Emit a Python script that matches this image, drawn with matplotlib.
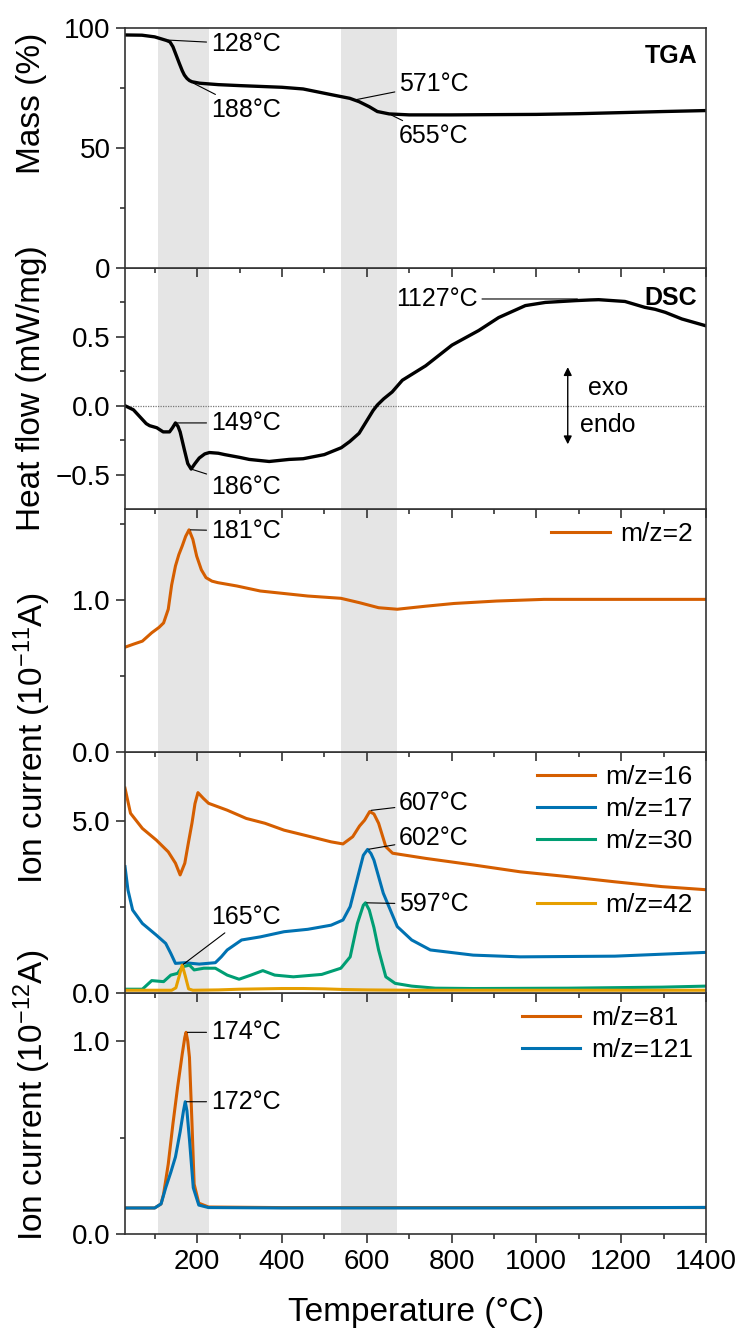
import matplotlib.pyplot as plt
from matplotlib.lines import Line2D
from matplotlib.ticker import MultipleLocator, FixedLocator, FuncFormatter

plt.rcParams['font.family'] = ['Liberation Sans', 'DejaVu Sans']
plt.rcParams['mathtext.fontset'] = 'custom'
plt.rcParams['mathtext.rm'] = 'Liberation Sans'
plt.rcParams['mathtext.it'] = 'Liberation Sans:italic'

# ---- data ----
# TGA (mass %)
t_tga = [30, 70, 100, 115, 128, 136, 143, 150, 158, 165, 170, 176, 182, 188, 206, 250, 300, 400,
         450, 520, 560, 582, 606, 625, 653, 700, 800, 900, 1000, 1100, 1213, 1300, 1400]
m_tga = [97.1, 97.0, 96.3, 95.5, 94.8, 94.2, 92.2, 89.0, 85.3, 82.2, 80.4, 79.0, 78.1, 77.6, 77.0,
         76.4, 76.0, 75.3, 74.6, 72.1, 70.7, 69.3, 67.2, 65.2, 64.2, 63.8, 63.8, 63.9, 64.0, 64.3,
         64.8, 65.2, 65.6]

# DSC (mW/mg)
t_dsc = [30, 50, 65, 80, 88, 105, 120, 135, 142, 149, 155, 160, 170, 178, 186, 195, 205, 218, 229,
         250, 265, 300, 323, 370, 417, 450, 500, 540, 560, 582, 600, 615, 625, 640, 660, 684, 739,
         801, 864, 911, 974, 1021, 1092, 1127, 1147, 1209, 1256, 1280, 1304, 1343, 1400]
v_dsc = [0.0, -0.03, -0.08, -0.13, -0.145, -0.16, -0.19, -0.19, -0.16, -0.125, -0.15, -0.19, -0.32,
         -0.42, -0.46, -0.42, -0.38, -0.35, -0.34, -0.345, -0.355, -0.375, -0.39, -0.405, -0.39,
         -0.385, -0.355, -0.305, -0.26, -0.2, -0.11, -0.035, 0.005, 0.05, 0.10, 0.185, 0.29, 0.44,
         0.546, 0.64, 0.727, 0.75, 0.763, 0.768, 0.77, 0.757, 0.714, 0.70, 0.678, 0.63, 0.58]

# MS m/z=2 (1e-11 A)
t_m2 = [30, 50, 71, 93, 110, 121, 132, 140, 149, 157, 165, 173, 181, 190, 199, 210, 221, 235, 249,
        294, 349, 400, 461, 539, 583, 628, 672, 739, 806, 906, 1018, 1185, 1400]
v_m2 = [0.69, 0.71, 0.73, 0.785, 0.82, 0.85, 0.94, 1.10, 1.225, 1.30, 1.357, 1.42, 1.463, 1.40,
        1.29, 1.20, 1.148, 1.125, 1.115, 1.093, 1.06, 1.045, 1.027, 1.012, 0.983, 0.95, 0.94,
        0.96, 0.978, 0.994, 1.005, 1.005, 1.005]

# MS m/z=16, 17, 30, 42
t_16 = [30, 43, 71, 104, 132, 149, 160, 171, 180, 188, 195, 202, 215, 227, 271, 316, 360, 405,
        461, 516, 544, 567, 583, 595, 607, 617, 628, 645, 661, 739, 851, 962, 1074, 1185, 1296, 1400]
v_16 = [5.95, 5.22, 4.78, 4.44, 4.10, 3.77, 3.43, 3.77, 4.4, 4.94, 5.5, 5.82, 5.65, 5.51, 5.31,
        5.07, 4.93, 4.73, 4.56, 4.39, 4.33, 4.54, 4.85, 5.02, 5.27, 5.2, 4.93, 4.25, 4.06, 3.91,
        3.72, 3.52, 3.38, 3.23, 3.09, 3.0]

t_17 = [30, 37, 48, 71, 104, 126, 138, 149, 171, 205, 243, 257, 271, 305, 349, 405, 461, 516, 544,
        561, 583, 592, 602, 610, 617, 639, 672, 706, 750, 851, 962, 1185, 1400]
v_17 = [3.67, 2.99, 2.41, 2.02, 1.68, 1.44, 1.15, 0.86, 0.88, 0.84, 0.88, 1.05, 1.25, 1.54, 1.63,
        1.78, 1.85, 1.97, 2.12, 2.51, 3.57, 4.0, 4.17, 4.05, 3.86, 2.90, 1.93, 1.54, 1.25, 1.10,
        1.05, 1.07, 1.18]

t_30 = [30, 71, 93, 121, 138, 154, 165, 182, 193, 216, 243, 271, 299, 327, 355, 383, 427, 494,
        539, 561, 578, 592, 597, 606, 617, 628, 645, 667, 706, 762, 851, 1074, 1296, 1400]
v_30 = [0.11, 0.11, 0.36, 0.33, 0.52, 0.57, 0.76, 0.81, 0.67, 0.72, 0.72, 0.52, 0.40, 0.52, 0.65,
        0.52, 0.47, 0.54, 0.72, 1.05, 2.02, 2.55, 2.62, 2.41, 1.9, 1.25, 0.47, 0.28, 0.20, 0.14,
        0.13, 0.14, 0.17, 0.20]

t_42 = [30, 100, 140, 150, 158, 165, 172, 180, 190, 250, 300, 350, 400, 450, 500, 550, 600, 700,
        900, 1100, 1400]
v_42 = [0.08, 0.08, 0.08, 0.15, 0.5, 0.81, 0.5, 0.12, 0.08, 0.09, 0.11, 0.12, 0.13, 0.13, 0.12,
        0.1, 0.09, 0.08, 0.08, 0.08, 0.08]

# MS m/z=81, 121 (1e-12 A)
t_81 = [30, 100, 115, 121, 132, 143, 154, 165, 171, 174, 178, 182, 188, 193, 204, 227, 400, 700,
        1000, 1400]
v_81 = [0.135, 0.135, 0.156, 0.207, 0.363, 0.571, 0.761, 0.934, 1.02, 1.046, 1.0, 0.916, 0.571,
        0.259, 0.16, 0.14, 0.137, 0.137, 0.137, 0.137]
t_121 = [30, 100, 115, 126, 138, 149, 160, 168, 172, 176, 182, 191, 204, 227, 400, 700, 1000, 1400]
v_121 = [0.135, 0.135, 0.156, 0.24, 0.32, 0.40, 0.53, 0.64, 0.686, 0.64, 0.49, 0.24, 0.15, 0.137,
         0.135, 0.135, 0.135, 0.138]

spans = [(107, 229), (540, 671)]

c_or, c_bl, c_gr, c_ye = '#D55E00', '#0072B2', '#009E73', '#E69F00'

# ---- layout ----
W, H = 742, 1331
fig = plt.figure(figsize=(W / 100, H / 100), dpi=100)
left, right = 125, 706
bounds = [28, 268, 509, 752, 993, 1234]
axes = []
for i in range(5):
    top, bot = bounds[i], bounds[i + 1]
    ax = fig.add_axes([left / W, 1 - bot / H, (right - left) / W, (bot - top) / H])
    ax.set_zorder(10 - i)
    axes.append(ax)

ylims = [(0, 100), (-0.75, 1.0), (0, 1.6), (0, 7), (0, 1.25)]
ymaj = [[0, 50, 100], [-0.5, 0, 0.5], [0, 1], [0, 5], [0, 1]]
ymin = [[25, 75], [-0.25, 0.25, 0.75], [0.5, 1.5], [2.5], [0.5]]

one_dec = FuncFormatter(lambda v, p: f'{v:.1f}'.replace('-', '\u2212'))

for i, ax in enumerate(axes):
    ax.set_xlim(30, 1400)
    ax.set_ylim(*ylims[i])
    ax.xaxis.set_major_locator(MultipleLocator(200))
    ax.xaxis.set_minor_locator(MultipleLocator(100))
    ax.yaxis.set_major_locator(FixedLocator(ymaj[i]))
    ax.yaxis.set_minor_locator(FixedLocator(ymin[i]))
    if i > 0:
        ax.yaxis.set_major_formatter(one_dec)
    ax.tick_params(axis='both', which='major', direction='out', length=6.5, width=1.2,
                   labelsize=20, pad=4, color='#333333')
    ax.tick_params(axis='both', which='minor', direction='out', length=3.6, width=1.2,
                   color='#333333')
    ax.tick_params(axis='x', which='both', top=False, labelbottom=(i == 4))
    ax.tick_params(axis='y', which='both', right=False)
    for s in ax.spines.values():
        s.set_color('#333333')
        s.set_linewidth(1.2)
    for a, b in spans:
        ax.axvspan(a, b, color='#e5e5e5', lw=0, zorder=0)

ann_kw = dict(fontsize=18, va='center', ha='left',
              arrowprops=dict(arrowstyle='-', color='black', lw=0.8, shrinkA=1, shrinkB=1))

# TGA
ax = axes[0]
ax.plot(t_tga, m_tga, color='black', lw=2.4)
ax.text(0.985, 0.885, 'TGA', transform=ax.transAxes, ha='right', va='center',
        fontsize=18, fontweight='bold')
ax.annotate('128°C', xy=(128, 95), xytext=(232, 93.3), **ann_kw)
ax.annotate('188°C', xy=(188, 77.3), xytext=(232, 65.9), **ann_kw)
ax.annotate('571°C', xy=(571, 70.0), xytext=(676, 76.6), **ann_kw)
ax.annotate('655°C', xy=(655, 64.0), xytext=(676, 55.0), **ann_kw)

# DSC
ax = axes[1]
ax.axhline(0, color='#777777', lw=0.9, ls=(0, (1, 1)), zorder=1)
ax.plot(t_dsc, v_dsc, color='black', lw=2.4)
ax.text(0.985, 0.875, 'DSC', transform=ax.transAxes, ha='right', va='center',
        fontsize=18, fontweight='bold')
ax.annotate('149°C', xy=(149, -0.125), xytext=(232, -0.125), **ann_kw)
ax.annotate('186°C', xy=(186, -0.46), xytext=(232, -0.587), **ann_kw)
kw = dict(ann_kw)
kw['ha'] = 'right'
ax.annotate('1127°C', xy=(1100, 0.775), xytext=(862, 0.775), **kw)
ax.annotate('', xy=(1074, 0.28), xytext=(1074, -0.28),
            arrowprops=dict(arrowstyle='<|-|>', color='black', lw=1.0, mutation_scale=12,
                            shrinkA=0, shrinkB=0))
ax.text(1122, 0.13, 'exo', fontsize=18, ha='left', va='center')
ax.text(1103, -0.14, 'endo', fontsize=18, ha='left', va='center')

leg_kw = dict(loc='upper right', frameon=False, fontsize=19, handlelength=2.2,
              handletextpad=0.4, labelspacing=0.3, borderaxespad=0.3, borderpad=0.2)

# m/z 2
ax = axes[2]
ax.plot(t_m2, v_m2, color=c_or, lw=2.2, label='m/z=2')
ax.annotate('181°C', xy=(181, 1.463), xytext=(232, 1.455), **ann_kw)
ax.legend(**leg_kw)

# m/z 16, 17, 30, 42
ax = axes[3]
l16, = ax.plot(t_16, v_16, color=c_or, lw=2.2, label='m/z=16')
l17, = ax.plot(t_17, v_17, color=c_bl, lw=2.2, label='m/z=17')
l30, = ax.plot(t_30, v_30, color=c_gr, lw=2.2, label='m/z=30')
l42, = ax.plot(t_42, v_42, color=c_ye, lw=2.2, label='m/z=42')
blank = Line2D([], [], color='none', label=' ')
ax.legend(handles=[l16, l17, l30, blank, l42], **leg_kw)
ax.annotate('607°C', xy=(607, 5.3), xytext=(676, 5.52), **ann_kw)
ax.annotate('602°C', xy=(602, 4.17), xytext=(676, 4.5), **ann_kw)
ax.annotate('597°C', xy=(597, 2.62), xytext=(676, 2.58), **ann_kw)
ax.annotate('165°C', xy=(165, 0.81), xytext=(232, 2.2), **ann_kw)

# m/z 81, 121
ax = axes[4]
ax.plot(t_81, v_81, color=c_or, lw=2.2, label='m/z=81')
ax.plot(t_121, v_121, color=c_bl, lw=2.2, label='m/z=121')
ax.annotate('174°C', xy=(174, 1.046), xytext=(232, 1.046), **ann_kw)
ax.annotate('172°C', xy=(172, 0.686), xytext=(232, 0.686), **ann_kw)
ax.legend(**leg_kw)

# axis labels
fig.text(0.043, 1 - 103 / H, 'Mass (%)', rotation=90, ha='center', va='center', fontsize=24)
fig.text(0.043, 1 - 388 / H, 'Heat flow (mW/mg)', rotation=90, ha='center', va='center',
         fontsize=24)
fig.text(0.043, 1 - 738 / H, 'Ion current (10$^{-11}$A)', rotation=90, ha='center',
         va='center', fontsize=24)
fig.text(0.043, 1 - 1095 / H, 'Ion current (10$^{-12}$A)', rotation=90, ha='center',
         va='center', fontsize=24)
fig.text(416 / W, 1 - 1313 / H, 'Temperature (°C)', ha='center', va='center', fontsize=24)

fig.savefig('out.png', dpi=100)
